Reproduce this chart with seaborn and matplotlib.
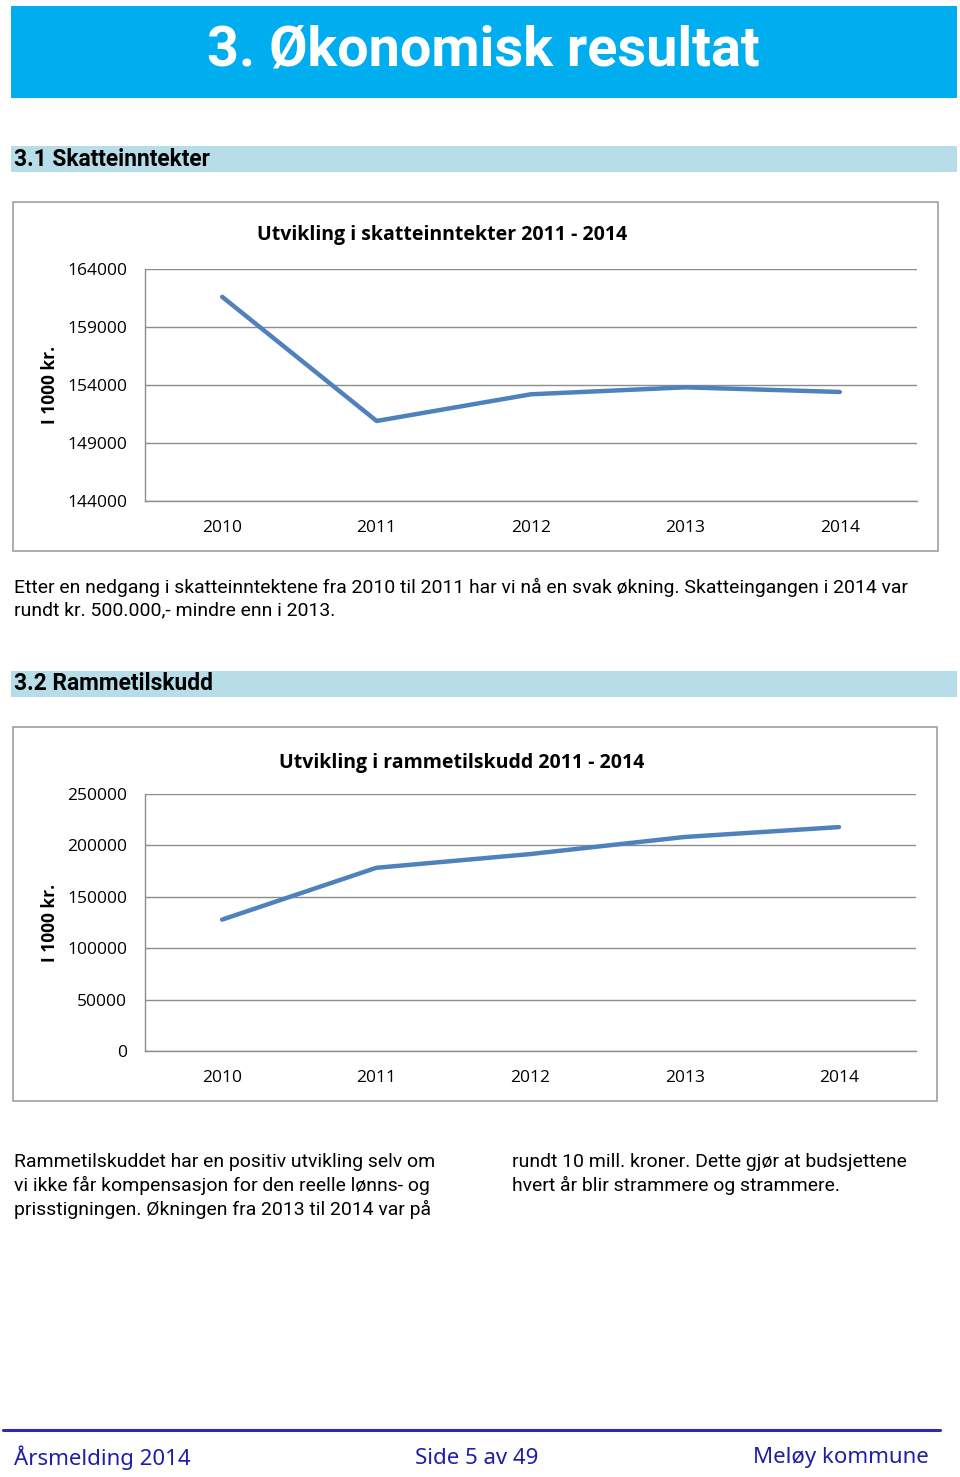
import matplotlib
matplotlib.use('Agg')
import matplotlib.pyplot as plt
import seaborn as sns
import pandas as pd
from matplotlib.patches import Rectangle

# data
years = ['2010', '2011', '2012', '2013', '2014']
skatt = [161600, 150900, 153200, 153800, 153400]
ramme = [127800, 178200, 191600, 208200, 217800]
skatt_ticks = [144000, 149000, 154000, 159000, 164000]
ramme_ticks = [0, 50000, 100000, 150000, 200000, 250000]

W, H = 960, 1477
sns.set_theme(style='white')
plt.rcParams['font.family'] = ['Open Sans', 'DejaVu Sans']
plt.rcParams['text.color'] = 'black'

fig = plt.figure(figsize=(W / 100, H / 100), dpi=100)
renderer = fig.canvas.get_renderer()


def fx(x):
    return x / W


def fy(y):
    return 1 - y / H


def box(x0, y0, x1, y1, **kw):
    fig.add_artist(Rectangle((fx(x0), fy(y1)), fx(x1) - fx(x0), fy(y0) - fy(y1),
                             transform=fig.transFigure, **kw))


def fit_size(s, width_px, **kw):
    # font size that makes the string about width_px wide
    t = fig.text(0, 0, s, fontsize=10, **kw)
    w = t.get_window_extent(renderer).width
    t.remove()
    return 10 * width_px / w


narrow = ['Roboto', 'DejaVu Sans']

# banner
box(11, 6, 957, 98, facecolor='#00AEEF', edgecolor='none')
title = '3. Økonomisk resultat'
fig.text(fx(483), fy(50), title, color='white',
         fontsize=fit_size(title, 553, fontweight='bold', family=narrow),
         fontweight='bold', family=narrow, ha='center', va='center')

# section bars
head_size = fit_size('3.1 Skatteinntekter', 197, fontweight='bold', family=narrow)
for y0, label in [(146, '3.1 Skatteinntekter'), (671, '3.2 Rammetilskudd')]:
    box(11, y0, 957, y0 + 26, facecolor='#B7DDE8', edgecolor='none')
    fig.text(fx(14), fy(y0 + 13), label, fontsize=head_size, fontweight='bold',
             family=narrow, ha='left', va='center', color='black')


def draw_chart(frame, area, values, ticks, title, title_x, title_y):
    box(*frame, facecolor='none', edgecolor='#A0A0A0', linewidth=1.2)
    left, top, right, bottom = area
    ax = fig.add_axes([fx(left), fy(bottom), fx(right) - fx(left), fy(top) - fy(bottom)])
    df = pd.DataFrame({'year': years, 'value': values})
    sns.lineplot(data=df, x='year', y='value', ax=ax, color='#4F81BD',
                 linewidth=3.2, sort=False)
    ax.set_xlim(-0.5, len(years) - 0.5)
    ax.set_ylim(ticks[0], ticks[-1])
    ax.set_yticks(ticks)
    ax.set_yticklabels([str(t) for t in ticks])
    ax.yaxis.grid(True, color='#8C8C8C', linewidth=1.0)
    ax.set_axisbelow(True)
    for s in ['top', 'right']:
        ax.spines[s].set_visible(False)
    for s in ['left', 'bottom']:
        ax.spines[s].set_color('#8C8C8C')
        ax.spines[s].set_linewidth(1.0)
    ax.tick_params(axis='both', length=0, labelsize=12.5, colors='black')
    ax.tick_params(axis='y', pad=13)
    ax.tick_params(axis='x', pad=14)
    ax.set_xlabel('')
    ax.set_ylabel('')
    fig.text(fx(50), (fy(top) + fy(bottom)) / 2, 'I 1000 kr.', fontsize=12.5,
             fontweight='bold', rotation=90, ha='center', va='center')
    fig.text(fx(title_x), fy(title_y), title, fontsize=14, fontweight='bold',
             ha='center', va='center')
    return ax


draw_chart((13, 202, 938, 551), (145, 269, 917, 501), skatt, skatt_ticks,
           'Utvikling i skatteinntekter 2011 - 2014', 442, 235)
draw_chart((13, 727, 937, 1101), (145, 794, 916, 1051), ramme, ramme_ticks,
           'Utvikling i rammetilskudd 2011 - 2014', 462, 763)

# paragraphs
line1 = ('Etter en nedgang i skatteinntektene fra 2010 til 2011 har vi nå en svak økning. '
         'Skatteingangen i 2014 var')
para_size = fit_size(line1, 897, family=narrow)
para_kw = dict(fontsize=para_size, family=narrow, ha='left', va='center', color='black')
fig.text(fx(14), fy(587), line1, **para_kw)
fig.text(fx(14), fy(610), 'rundt kr. 500.000,- mindre enn i 2013.', **para_kw)

left_lines = ['Rammetilskuddet har en positiv utvikling selv om',
              'vi ikke får kompensasjon for den reelle lønns- og',
              'prisstigningen. Økningen fra 2013 til 2014 var på']
right_lines = ['rundt 10 mill. kroner. Dette gjør at budsjettene',
               'hvert år blir strammere og strammere.']
for i, line in enumerate(left_lines):
    fig.text(fx(14), fy(1162 + i * 23.5), line, **para_kw)
for i, line in enumerate(right_lines):
    fig.text(fx(512), fy(1162 + i * 23.5), line, **para_kw)

# footer
fig.add_artist(plt.Line2D([fx(3), fx(940)], [fy(1430), fy(1430)], color='#2A2AB5',
                          linewidth=2.2, transform=fig.transFigure))
foot_kw = dict(fontsize=16, color='#1E1EA8', va='center', family=['Noto Sans', 'DejaVu Sans'])
fig.text(fx(14), fy(1458), 'Årsmelding 2014', ha='left', **foot_kw)
fig.text(fx(477), fy(1458), 'Side 5 av 49', ha='center', **foot_kw)
fig.text(fx(929), fy(1458), 'Meløy kommune', ha='right', **foot_kw)

fig.savefig('out.png', dpi=100)
